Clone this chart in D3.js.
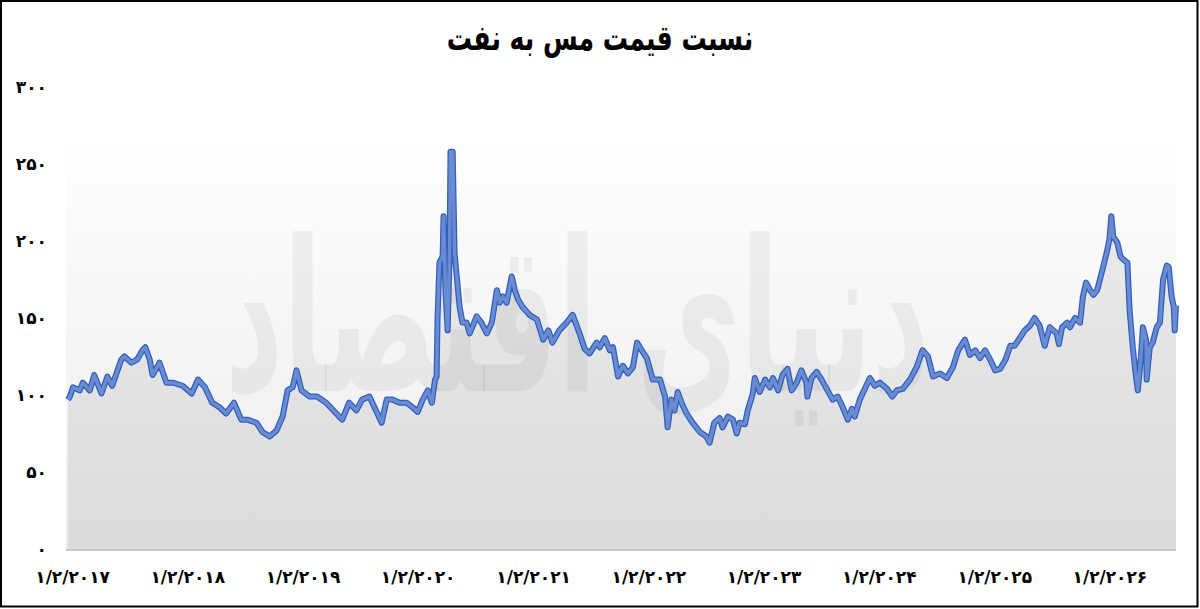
<!DOCTYPE html>
<html><head><meta charset="utf-8">
<script src="https://cdn.jsdelivr.net/npm/d3@7"></script>
<style>html,body{margin:0;padding:0;background:#fff;} svg{display:block;}</style>
</head><body>
<svg id="c" width="1200" height="609"></svg>
<script>
const dates = ["2016-12-20","2016-12-26","2017-01-05","2017-01-26","2017-02-05","2017-02-27","2017-03-13","2017-04-05","2017-04-24","2017-05-09","2017-06-07","2017-06-17","2017-07-09","2017-07-27","2017-08-13","2017-08-22","2017-09-05","2017-09-14","2017-10-06","2017-10-28","2017-11-17","2017-12-18",
"2018-01-16","2018-02-05","2018-02-27","2018-03-22","2018-04-14","2018-05-05","2018-05-30","2018-06-22","2018-07-11","2018-08-09","2018-08-28","2018-09-20","2018-10-12","2018-10-31","2018-11-16","2018-12-02","2018-12-14","2018-12-30",
"2019-01-25","2019-02-17","2019-03-18","2019-04-19","2019-05-08","2019-05-30","2019-06-22","2019-07-10","2019-08-02","2019-08-18","2019-09-10","2019-09-26","2019-10-14","2019-11-06","2019-11-28","2019-12-17",
"2020-01-02","2020-01-18","2020-02-03","2020-02-16","2020-02-26","2020-03-02","2020-03-05","2020-03-11","2020-03-21","2020-03-24","2020-03-30","2020-04-06","2020-04-12","2020-04-15","2020-04-22","2020-04-28","2020-05-04","2020-05-14","2020-05-23","2020-06-05","2020-06-15","2020-07-07","2020-07-22","2020-08-08","2020-08-24","2020-09-09","2020-09-18","2020-09-28","2020-10-10","2020-10-26","2020-11-05","2020-11-15","2020-11-30","2020-12-22",
"2021-01-14","2021-02-03","2021-02-19","2021-03-04","2021-03-26","2021-04-18","2021-05-07","2021-05-29","2021-06-14","2021-06-30","2021-07-22","2021-08-01","2021-08-17","2021-09-02","2021-09-12","2021-09-28","2021-10-13","2021-10-29","2021-11-14","2021-11-27","2021-12-12","2021-12-28",
"2022-01-16","2022-02-08","2022-02-24","2022-03-04","2022-03-16","2022-03-26","2022-04-05","2022-04-17","2022-05-03","2022-05-22","2022-06-14","2022-07-05","2022-07-15","2022-07-30","2022-08-16","2022-08-25","2022-09-11","2022-09-27","2022-10-09","2022-10-18","2022-11-04","2022-11-13","2022-11-29","2022-12-05","2022-12-21",
"2023-01-07","2023-01-22","2023-02-01","2023-02-17","2023-03-03","2023-03-19","2023-04-01","2023-04-17","2023-05-02","2023-05-18","2023-05-21","2023-06-03","2023-06-19","2023-07-05","2023-07-21","2023-08-09","2023-08-25","2023-09-10","2023-09-26","2023-10-09","2023-10-18","2023-11-03","2023-11-19","2023-12-05","2023-12-21",
"2024-01-06","2024-01-28","2024-02-14","2024-02-28","2024-03-18","2024-04-10","2024-05-01","2024-05-20","2024-06-06","2024-06-22","2024-07-14","2024-08-05","2024-08-24","2024-09-10","2024-10-01","2024-10-17","2024-11-03","2024-11-18","2024-12-04","2024-12-20",
"2025-01-05","2025-01-21","2025-02-07","2025-02-22","2025-03-08","2025-03-24","2025-04-09","2025-04-25","2025-05-10","2025-05-26","2025-06-11","2025-06-27","2025-07-19","2025-07-26","2025-08-05","2025-08-21","2025-08-30","2025-09-15","2025-10-01","2025-10-10","2025-10-20","2025-11-02","2025-11-12","2025-11-24","2025-12-03","2025-12-13","2025-12-26",
"2026-01-02","2026-01-08","2026-01-14","2026-01-27","2026-02-06","2026-02-15","2026-02-28","2026-03-07","2026-03-17","2026-03-26","2026-04-02","2026-04-12","2026-04-18","2026-04-28","2026-04-30","2026-05-10","2026-05-19","2026-06-01","2026-06-11","2026-06-21","2026-07-03","2026-07-09","2026-07-18","2026-07-25","2026-07-28","2026-08-01"];

const values = [97,99,105,103,108,103,113,101,112,106,123,125,121,123,129,131,123,113,121,108,108,106,
101,110,105,95,92,88,95,84,84,82,76,73,77,86,103,105,116,103,
99,99,95,88,84,95,90,97,99,92,82,97,97,95,95,92,
89,97,103,95,110,112,150,186,190,216,168,142,190,258,258,192,179,157,147,147,140,151,147,140,147,168,160,164,160,177,168,162,157,152,
149,136,142,134,142,147,152,140,130,127,134,131,137,129,131,112,119,114,118,134,129,124,
110,110,99,79,97,90,102,95,88,82,76,73,69,82,85,79,86,84,75,82,81,90,101,111,102,
110,105,111,103,113,117,103,108,116,108,99,111,115,110,104,97,99,92,84,91,86,97,104,111,106,
108,104,99,103,104,110,118,129,125,112,114,111,118,129,136,126,129,124,129,123,
116,117,123,132,132,137,142,145,150,145,132,144,140,133,144,147,144,150,147,164,173,168,165,168,175,183,194,
201,216,203,199,190,188,186,155,131,114,103,125,144,136,110,131,134,144,147,175,184,183,164,157,142,158];

const yTicks = [0, 50, 100, 150, 200, 250, 300];
const xTickDates = ["2017-01-02","2018-01-02","2019-01-02","2020-01-02","2021-01-02","2022-01-02","2023-01-02","2024-01-02","2025-01-02","2026-01-02"];
const titleText = "نسبت قیمت مس به نفت";
const watermarkText = "دنیای اقتصاد";

const faDigits = "۰۱۲۳۴۵۶۷۸۹";
const fa = s => String(s).replace(/[0-9]/g, d => faDigits[+d]);
const parse = d3.timeParse("%Y-%m-%d");
const data = dates.map((d, i) => ({date: parse(d), value: values[i]}));

const svg = d3.select("#c");
const FONT = "'DejaVu Sans', sans-serif";

const x = d3.scaleTime().domain(d3.extent(data, d => d.date)).range([68, 1176]);
const y = d3.scaleLinear().domain([0, 300]).range([549, 87]);

const defs = svg.append("defs");
const bg = defs.append("linearGradient").attr("id", "bgGrad").attr("x1", 0).attr("y1", 0).attr("x2", 0).attr("y2", 1);
bg.append("stop").attr("offset", "0%").attr("stop-color", "#fefefe");
bg.append("stop").attr("offset", "100%").attr("stop-color", "#ececec");
const ag = defs.append("linearGradient").attr("id", "areaGrad").attr("gradientUnits", "userSpaceOnUse")
  .attr("x1", 0).attr("y1", y(262)).attr("x2", 0).attr("y2", y(0));
ag.append("stop").attr("offset", "0%").attr("stop-color", "#ededed");
ag.append("stop").attr("offset", "100%").attr("stop-color", "#dbdbdb");

// plot background
svg.append("rect").attr("x", 66).attr("y", y(264)).attr("width", 1176 - 66).attr("height", y(0) - y(264) + 2)
  .attr("fill", "url(#bgGrad)");

// area
const area = d3.area().x(d => x(d.date)).y0(y(0)).y1(d => y(d.value));
svg.append("path").datum(data).attr("d", area).attr("fill", "url(#areaGrad)");

// floor line
svg.append("line").attr("x1", 66).attr("x2", 1176).attr("y1", y(0) + 1).attr("y2", y(0) + 1)
  .attr("stroke", "#c8c8c8").attr("stroke-width", 2);

// watermark
const wm = svg.append("g");
const wmText = wm.append("text").text(watermarkText)
  .attr("font-family", FONT).attr("font-weight", "bold").attr("font-size", 150)
  .attr("fill", "#000").attr("fill-opacity", 0.05).attr("direction", "rtl");
const bb = wmText.node().getBBox();
const tx0 = 225, tx1 = 930, ty0 = 195, ty1 = 440;
const sx = (tx1 - tx0) / bb.width, sy = (ty1 - ty0) / bb.height;
wmText.attr("transform", `translate(${tx0},${ty0}) scale(${sx},${sy}) translate(${-bb.x},${-bb.y})`);

// line
const line = d3.line().x(d => x(d.date)).y(d => y(d.value));
svg.append("path").datum(data).attr("d", line).attr("fill", "none")
  .attr("stroke", "#2f5ec4").attr("stroke-width", 6).attr("stroke-linejoin", "round");
svg.append("path").datum(data).attr("d", line).attr("fill", "none")
  .attr("stroke", "#6b8bcf").attr("stroke-width", 3.5).attr("stroke-linejoin", "round");

// y axis
const yAxis = svg.append("g").attr("transform", "translate(52,0)")
  .call(d3.axisLeft(y).tickValues(yTicks).tickSize(0).tickPadding(5).tickFormat(d => fa(d)));
yAxis.select(".domain").remove();
yAxis.selectAll("text").attr("font-family", FONT).attr("font-weight", "bold").attr("font-size", 17).attr("fill", "#000");

// x axis
const xAxis = svg.append("g").attr("transform", "translate(0,561)")
  .call(d3.axisBottom(x).tickValues(xTickDates.map(parse)).tickSize(0).tickPadding(10)
    .tickFormat(d => fa(`${d.getMonth() + 1}/${d.getDate()}/${d.getFullYear()}`)));
xAxis.select(".domain").remove();
xAxis.selectAll("text").attr("font-family", FONT).attr("font-weight", "bold").attr("font-size", 17)
  .attr("fill", "#000").attr("direction", "ltr");

// title
svg.append("text").text(titleText).attr("transform", "translate(600,50) scale(0.93,1.3)").attr("text-anchor", "middle")
  .attr("direction", "rtl").attr("font-family", FONT).attr("font-weight", "bold").attr("font-size", 27).attr("fill", "#000");

// border
svg.append("rect").attr("x", 1).attr("y", 1).attr("width", 1196.5).attr("height", 605.5)
  .attr("fill", "none").attr("stroke", "#000").attr("stroke-width", 2);
</script>
</body></html>
